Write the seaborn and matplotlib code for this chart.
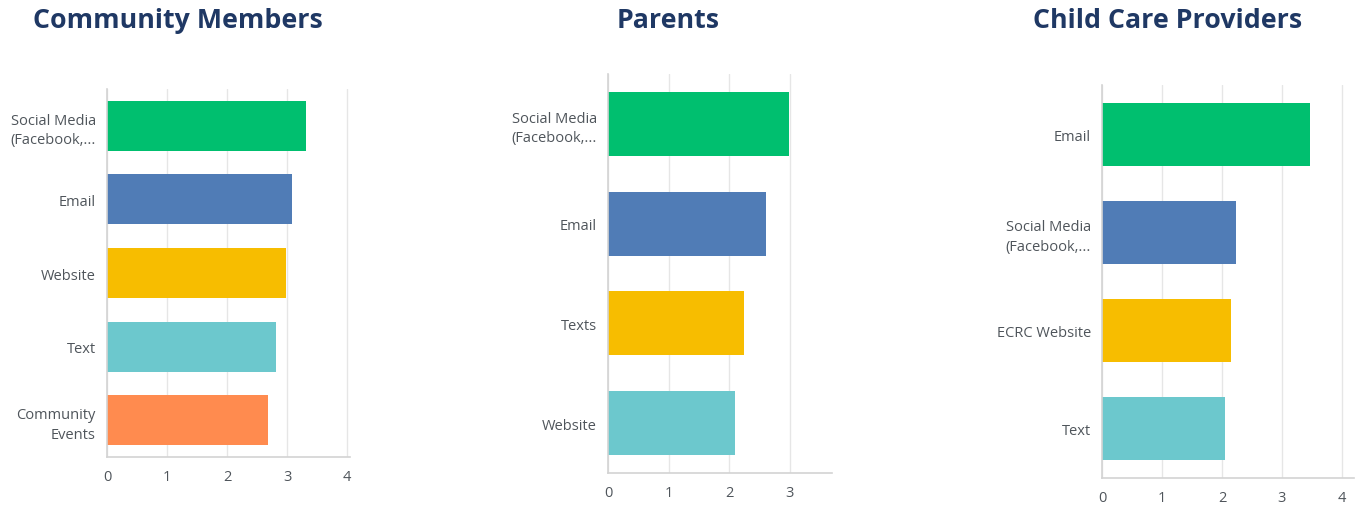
import matplotlib
matplotlib.use("Agg")
import matplotlib.pyplot as plt
import seaborn as sns
import pandas as pd

# Average preference scores by communication channel for each group
community_labels = ["Social Media\n(Facebook,...", "Email", "Website", "Text", "Community\nEvents"]
community_values = [3.32, 3.09, 2.98, 2.82, 2.69]

parents_labels = ["Social Media\n(Facebook,...", "Email", "Texts", "Website"]
parents_values = [2.99, 2.61, 2.24, 2.10]

providers_labels = ["Email", "Social Media\n(Facebook,...", "ECRC Website", "Text"]
providers_values = [3.47, 2.24, 2.15, 2.05]

titles = ["Community Members", "Parents", "Child Care Providers"]

palette = ["#00BF6F", "#507CB6", "#F7BD00", "#6CC8CD", "#FF8B4F"]

sns.set_theme(style="white")
plt.rcParams["font.family"] = ["Open Sans", "DejaVu Sans"]

W, H = 1358, 506
fig = plt.figure(figsize=(W / 100, H / 100), dpi=100)
fig.patch.set_facecolor("white")

# panel boxes in pixels: left, right, top, bottom, x upper limit, bar width
panels = [
    (community_labels, community_values, 107, 350, 90, 458, 4.05, 0.68, titles[0], 178),
    (parents_labels, parents_values, 608, 832, 75, 474, 3.70, 0.64, titles[1], 668),
    (providers_labels, providers_values, 1102, 1354, 86, 479, 4.20, 0.64, titles[2], 1168),
]

for labels, values, l, r, t, b, xmax, bw, title, tx in panels:
    ax = fig.add_axes([l / W, (H - b) / H, (r - l) / W, (b - t) / H])
    df = pd.DataFrame({"channel": labels, "score": values})
    sns.barplot(data=df, y="channel", x="score", hue="channel",
                palette=palette[:len(labels)], width=bw, legend=False,
                saturation=1, ax=ax, orient="h")
    ax.set_xlim(0, xmax)
    ax.set_ylim(len(labels) - 0.5, -0.5)
    ticks = [i for i in range(0, 5) if i <= xmax]
    ax.set_xticks(ticks)
    ax.set_xticklabels([str(i) for i in ticks])
    ax.set_xlabel("")
    ax.set_ylabel("")
    ax.grid(axis="x", color="#E6E6E6", linewidth=1.0)
    ax.set_axisbelow(True)
    for side in ["top", "right"]:
        ax.spines[side].set_visible(False)
    for side in ["left", "bottom"]:
        ax.spines[side].set_visible(True)
        ax.spines[side].set_color("#D3D3D3")
        ax.spines[side].set_linewidth(1.2)
    ax.tick_params(axis="both", length=0, colors="#4F555B", labelsize=10.5)
    ax.tick_params(axis="x", pad=9)
    ax.tick_params(axis="y", pad=8)
    for lab in ax.get_yticklabels():
        lab.set_linespacing(1.4)
        lab.set_horizontalalignment("right")
    for p in ax.patches:
        p.set_edgecolor("none")
    fig.text(tx / W, 1 - 21 / H, title, ha="center", va="center",
             fontsize=19.3, fontweight="bold", color="#1F3864")

fig.savefig("out.png", dpi=100, facecolor="white")
